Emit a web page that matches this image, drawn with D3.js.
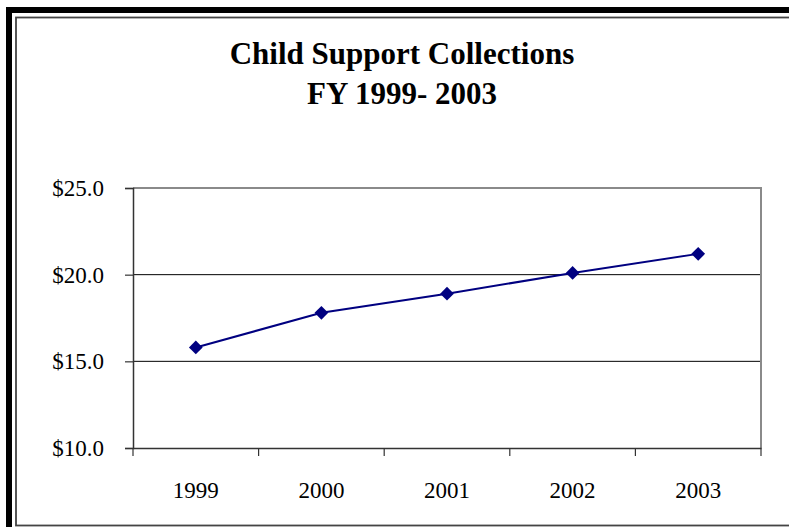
<!DOCTYPE html>
<html>
<head>
<meta charset="utf-8">
<script src="https://cdn.jsdelivr.net/npm/d3@7"></script>
<style>
  body { margin: 0; background: #fff; }
  svg { display: block; }
  svg text { font-family: "Liberation Serif", "Times New Roman", Times, "DejaVu Serif", serif !important; }
</style>
</head>
<body>
<svg id="chart" width="789" height="527"></svg>
<script>
const years = ["1999", "2000", "2001", "2002", "2003"];
const collections = [15.8, 17.8, 18.9, 20.1, 21.2];
const yTicks = [10, 15, 20, 25];
const titleLines = ["Child Support Collections", "FY 1999- 2003"];

const svg = d3.select("#chart");
const width = 789, height = 527;
const serif = "'Liberation Serif', 'Times New Roman', Times, 'DejaVu Serif', serif";

// frame
svg.append("rect")
  .attr("x", 9).attr("y", 10)
  .attr("width", width + 20).attr("height", height + 20)
  .attr("fill", "none").attr("stroke", "#000").attr("stroke-width", 6);
svg.append("rect")
  .attr("x", 16).attr("y", 17.5)
  .attr("width", width + 20).attr("height", 508)
  .attr("fill", "none").attr("stroke", "#444").attr("stroke-width", 1.8);

// title
svg.append("text")
  .attr("x", 402).attr("y", 64)
  .attr("text-anchor", "middle")
  .attr("font-family", serif)
  .attr("font-size", 31).attr("font-weight", "bold")
  .selectAll("tspan")
  .data(titleLines)
  .join("tspan")
  .attr("x", 402)
  .attr("dy", (d, i) => i === 0 ? 0 : 40)
  .text(d => d);

const plot = { left: 133, right: 761, top: 188, bottom: 448 };

const x = d3.scaleBand()
  .domain(years)
  .range([plot.left, plot.right]);

const y = d3.scaleLinear()
  .domain([10, 25])
  .range([plot.bottom, plot.top]);

// gridlines
svg.append("g")
  .selectAll("line")
  .data(yTicks.filter(t => t > 10 && t < 25))
  .join("line")
  .attr("x1", plot.left).attr("x2", plot.right)
  .attr("y1", d => y(d)).attr("y2", d => y(d))
  .attr("stroke", "#000").attr("stroke-width", 1);

// top and right plot border
svg.append("path")
  .attr("d", `M${plot.left},${y(25)}H${plot.right}V${plot.bottom}`)
  .attr("fill", "none").attr("stroke", "#8a8a8a").attr("stroke-width", 2);

// y axis
const yAxis = d3.axisLeft(y)
  .tickValues(yTicks)
  .tickSize(8)
  .tickPadding(21)
  .tickFormat(d => "$" + d3.format(".1f")(d));

svg.append("g")
  .attr("transform", `translate(${plot.left},0)`)
  .call(yAxis)
  .attr("font-family", serif)
  .call(g => g.select(".domain").attr("stroke", "#333").attr("stroke-width", 1.5))
  .call(g => g.selectAll(".tick line").attr("stroke", "#333").attr("stroke-width", 1.2))
  .call(g => g.selectAll(".tick text")
    .attr("font-size", 23)
    .attr("fill", "#000"));

// x axis: ticks between categories
const xAxis = d3.axisBottom(x).tickSize(0).tickPadding(34);
const xg = svg.append("g")
  .attr("transform", `translate(0,${plot.bottom})`)
  .call(xAxis)
  .attr("font-family", serif);
xg.select(".domain").attr("stroke", "#333").attr("stroke-width", 1.5);
xg.selectAll(".tick text")
  .attr("font-size", 23)
  .attr("fill", "#000");
xg.selectAll(".boundary")
  .data(years.map(d => x(d)).concat([x(years[years.length - 1]) + x.bandwidth()]))
  .join("line")
  .attr("class", "boundary")
  .attr("x1", d => d).attr("x2", d => d)
  .attr("y1", 0).attr("y2", 8)
  .attr("stroke", "#333").attr("stroke-width", 1.2);

// line
const cx = d => x(d) + x.bandwidth() / 2;
const line = d3.line()
  .x((d, i) => cx(years[i]))
  .y(d => y(d));

svg.append("path")
  .datum(collections)
  .attr("d", line)
  .attr("fill", "none")
  .attr("stroke", "#000080")
  .attr("stroke-width", 2);

svg.append("g")
  .selectAll("path")
  .data(collections)
  .join("path")
  .attr("d", d3.symbol(d3.symbolDiamond2, 120))
  .attr("transform", (d, i) => `translate(${cx(years[i])},${y(d)})`)
  .attr("fill", "#000080");
</script>
</body>
</html>
